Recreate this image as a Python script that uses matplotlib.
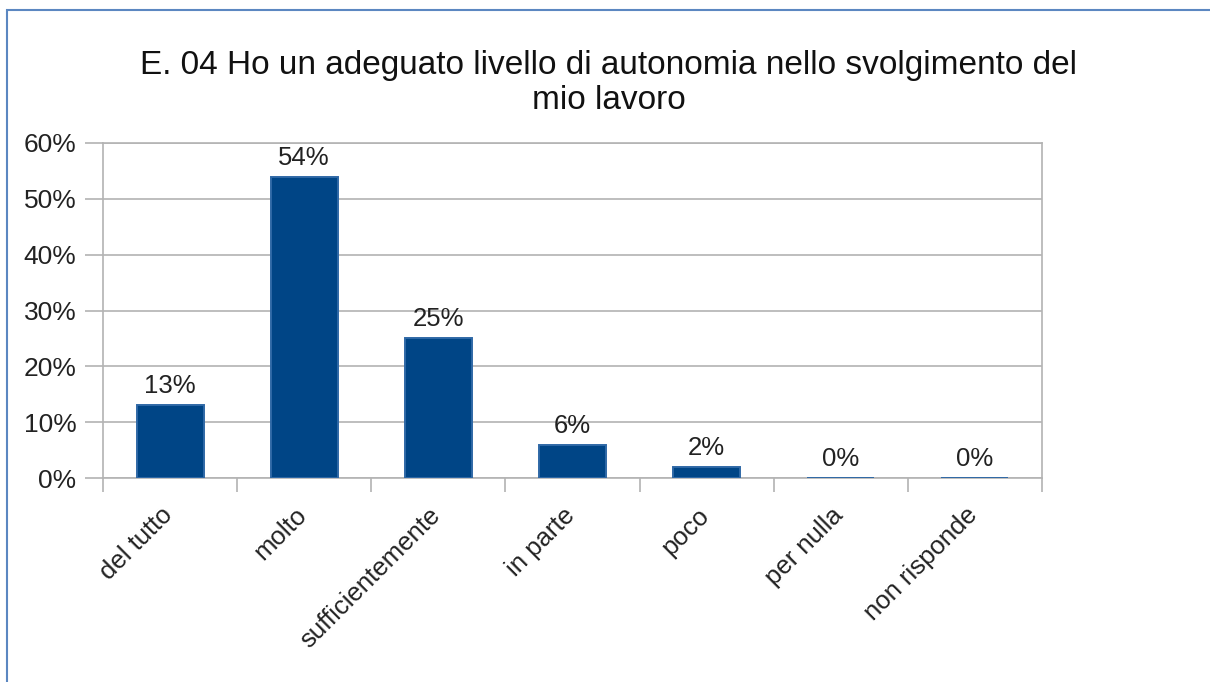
import matplotlib.pyplot as plt
import matplotlib.patches as patches
import matplotlib.transforms as mtransforms
import numpy as np

categories = ["del tutto", "molto", "sufficientemente", "in parte", "poco", "per nulla", "non risponde"]
values = [13, 54, 25, 6, 2, 0, 0]
y_ticks = [0, 10, 20, 30, 40, 50, 60]
title = "E. 04 Ho un adeguato livello di autonomia nello svolgimento del\nmio lavoro"

plt.rcParams['font.family'] = ['Liberation Sans', 'DejaVu Sans']

fig = plt.figure(figsize=(12.1, 6.82), dpi=100)
ax = fig.add_axes([103 / 1210, 1 - 478 / 682, (1042 - 103) / 1210, (478 - 143) / 682])

x = np.arange(len(categories))
bars = ax.bar(x, values, width=0.5, color='#004586', edgecolor='#2f68a6', linewidth=1.4, zorder=3)
ax.bar_label(bars, labels=[f"{v}%" for v in values], padding=5, fontsize=18.5, color='#222222')

ax.set_xlim(-0.5, len(categories) - 0.5)
ax.set_ylim(0, 60)
ax.set_yticks(y_ticks)
ax.set_yticklabels([f"{t}%" for t in y_ticks], fontsize=19, color='#222222')
ax.yaxis.grid(True, color='#b3b3b3', linewidth=1.2, zorder=0)

ax.set_xticks(x)
ax.set_xticklabels(categories, rotation=45, ha='right', rotation_mode='anchor', fontsize=18.5, color='#222222')
ax.tick_params(axis='x', which='major', length=0, pad=18)
shift = mtransforms.ScaledTranslation(-10 / 100, 0, fig.dpi_scale_trans)
for lbl in ax.get_xticklabels():
    lbl.set_transform(lbl.get_transform() + shift)
ax.set_xticks(np.arange(-0.5, len(categories)), minor=True)
ax.tick_params(axis='x', which='minor', length=10, width=1.2, color='#b3b3b3')
ax.tick_params(axis='y', length=13, width=1.2, color='#b3b3b3', pad=6)

for side in ['left', 'bottom', 'right', 'top']:
    ax.spines[side].set_color('#b3b3b3')
    ax.spines[side].set_linewidth(1.2)

fig.text(0.503, 1 - 83 / 682, title, ha='center', va='center', fontsize=24, color='#111111', linespacing=1.2)

# chart frame
frame = patches.Rectangle((7 / 1210, -0.1), 1.2, 1 - 10 / 682 + 0.1, transform=fig.transFigure,
                          fill=False, edgecolor='#5b87c1', linewidth=1.5, clip_on=False)
fig.patches.append(frame)

fig.savefig("out.png", dpi=100)
